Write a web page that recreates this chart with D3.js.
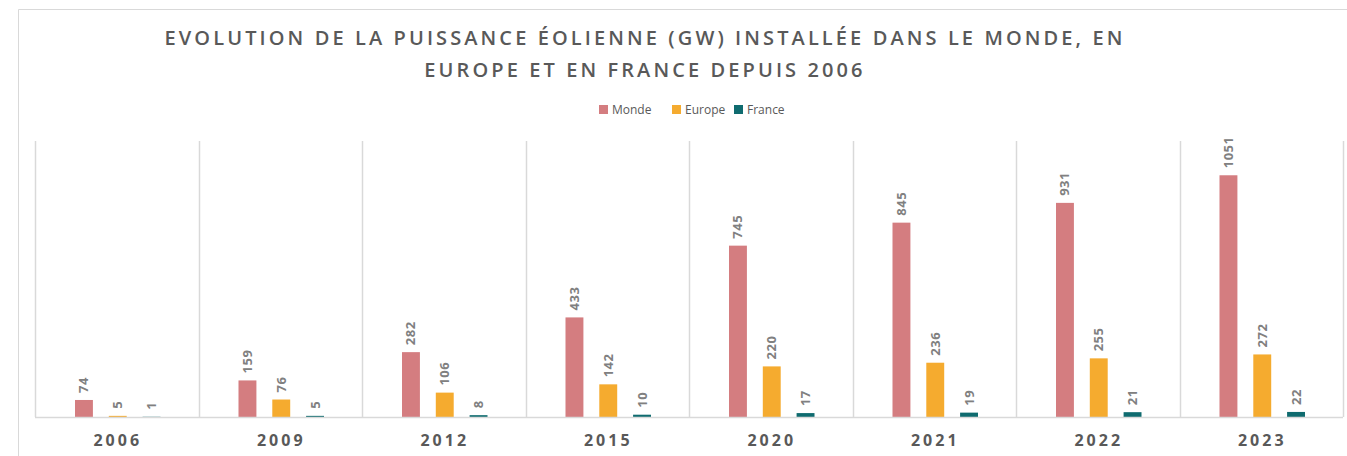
<!DOCTYPE html>
<html>
<head>
<meta charset="utf-8">
<script src="https://d3js.org/d3.v7.min.js"></script>
<style>
  body { margin: 0; background: #fff; }
  svg { display: block; font-family: "Open Sans", sans-serif; }
</style>
</head>
<body>
<div id="chart"></div>
<script>
// data
var years = ["2006", "2009", "2012", "2015", "2020", "2021", "2022", "2023"];
var series = ["Monde", "Europe", "France"];
var monde = [74, 159, 282, 433, 745, 845, 931, 1051];
var europe = [5, 76, 106, 142, 220, 236, 255, 272];
var france = [1, 5, 8, 10, 17, 19, 21, 22];
var colors = ["#d47d80", "#f5ab2f", "#0f6b6f"];

var width = 1347, height = 456;
var plot = { left: 35, right: 1343, top: 141, bottom: 417 };

var svg = d3.select("#chart").append("svg")
    .attr("width", width).attr("height", height);

// outer frame
svg.append("path")
    .attr("d", "M18.5," + height + " V9.5 H" + width)
    .attr("fill", "none").attr("stroke", "#d9d9d9").attr("stroke-width", 1);

var x0 = d3.scaleBand().domain(years).range([plot.left, plot.right]);
var x1 = d3.scaleBand().domain(series).range([40, x0.bandwidth() - 38]).paddingInner(0.47);
var y = d3.scaleLinear().domain([0, 1200]).range([plot.bottom, plot.top]);

// category separators
var seps = years.map(function(d) { return x0(d); }).concat([plot.right]);
svg.selectAll("line.sep").data(seps).enter().append("line")
    .attr("class", "sep")
    .attr("x1", function(d) { return Math.round(d) + 0.5; })
    .attr("x2", function(d) { return Math.round(d) + 0.5; })
    .attr("y1", plot.top).attr("y2", plot.bottom)
    .attr("stroke", "#d9d9d9").attr("stroke-width", 1.5);

var rows = years.map(function(yr, i) {
    return { year: yr, vals: [monde[i], europe[i], france[i]] };
});

var groups = svg.selectAll("g.year").data(rows).enter().append("g")
    .attr("class", "year")
    .attr("transform", function(d) { return "translate(" + x0(d.year) + ",0)"; });

groups.selectAll("rect").data(function(d) {
        return d.vals.map(function(v, j) { return { s: series[j], v: v, c: colors[j] }; });
    }).enter().append("rect")
    .attr("x", function(d) { return x1(d.s); })
    .attr("width", x1.bandwidth())
    .attr("y", function(d) { return y(d.v); })
    .attr("height", function(d) { return plot.bottom - y(d.v); })
    .attr("fill", function(d) { return d.c; });

groups.selectAll("text").data(function(d) {
        return d.vals.map(function(v, j) { return { s: series[j], v: v }; });
    }).enter().append("text")
    .attr("transform", function(d) {
        return "translate(" + (x1(d.s) + x1.bandwidth() / 2 + 4.5) + "," + (y(d.v) - 7) + ") rotate(-90)";
    })
    .attr("font-size", 13).attr("font-weight", 700)
    .attr("fill", "#808080").attr("letter-spacing", 0.5)
    .text(function(d) { return d.v; });

// baseline
svg.append("line")
    .attr("x1", plot.left).attr("x2", plot.right)
    .attr("y1", plot.bottom + 0.5).attr("y2", plot.bottom + 0.5)
    .attr("stroke", "#d9d9d9").attr("stroke-width", 1.5);

// category labels
svg.selectAll("text.cat").data(years).enter().append("text")
    .attr("class", "cat")
    .attr("x", function(d) { return x0(d) + x0.bandwidth() / 2 + 1; })
    .attr("y", 446)
    .attr("text-anchor", "middle")
    .attr("font-size", 16).attr("font-weight", 700)
    .attr("letter-spacing", 3)
    .attr("fill", "#595959")
    .text(function(d) { return d; });

// title
var titleLines = ["EVOLUTION DE LA PUISSANCE ÉOLIENNE (GW) INSTALLÉE DANS LE MONDE, EN",
                  "EUROPE ET EN FRANCE DEPUIS 2006"];
svg.selectAll("text.title").data(titleLines).enter().append("text")
    .attr("class", "title")
    .attr("x", 645)
    .attr("y", function(d, i) { return 45 + i * 32; })
    .attr("text-anchor", "middle")
    .attr("font-size", 20).attr("font-weight", 600)
    .attr("letter-spacing", 3.1)
    .attr("fill", "#595959")
    .text(function(d) { return d; });

// legend
var legendX = [599, 672, 734];
var lg = svg.selectAll("g.leg").data(series).enter().append("g")
    .attr("class", "leg")
    .attr("transform", function(d, i) { return "translate(" + legendX[i] + ",105)"; });
lg.append("rect").attr("width", 9).attr("height", 9)
    .attr("fill", function(d, i) { return colors[i]; });
lg.append("text").attr("x", 13).attr("y", 9)
    .attr("font-size", 12).attr("fill", "#595959")
    .text(function(d) { return d; });
</script>
</body>
</html>
